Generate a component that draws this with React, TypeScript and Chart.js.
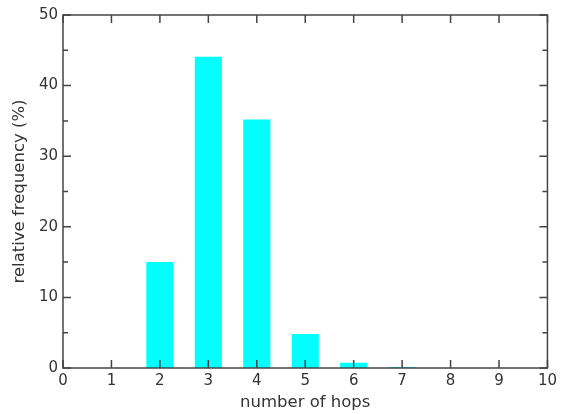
import React, { useEffect, useRef } from "react";
import { Chart, registerables } from "chart.js";

Chart.register(...registerables);

const hops = [1, 2, 3, 4, 5, 6, 7];
const frequency = [0, 15.0, 44.1, 35.2, 4.8, 0.75, 0.15];
const xTicks = [0, 1, 2, 3, 4, 5, 6, 7, 8, 9, 10];
const yMajorTicks = [0, 10, 20, 30, 40, 50];
const yMinorTicks = [5, 15, 25, 35, 45];

const FONT = "'DejaVu Sans', 'Liberation Sans', Arial, sans-serif";
const TEXT = "#333333";
const AXIS = "#444444";

const framePlugin = {
  id: "frameTicks",
  afterDatasetsDraw(chart: any) {
    const { ctx, chartArea } = chart;
    const { left, right, top, bottom } = chartArea;
    const xs = chart.scales.x;
    const ys = chart.scales.y;
    ctx.save();
    ctx.strokeStyle = AXIS;
    ctx.lineWidth = 1.5;
    ctx.beginPath();
    xTicks.forEach((v) => {
      const px = xs.getPixelForValue(v);
      ctx.moveTo(px, bottom);
      ctx.lineTo(px, bottom - 8);
      ctx.moveTo(px, top);
      ctx.lineTo(px, top + 8);
    });
    yMajorTicks.forEach((v) => {
      const py = ys.getPixelForValue(v);
      ctx.moveTo(left, py);
      ctx.lineTo(left + 8, py);
      ctx.moveTo(right, py);
      ctx.lineTo(right - 8, py);
    });
    yMinorTicks.forEach((v) => {
      const py = ys.getPixelForValue(v);
      ctx.moveTo(left, py);
      ctx.lineTo(left + 5, py);
      ctx.moveTo(right, py);
      ctx.lineTo(right - 5, py);
    });
    ctx.stroke();
    ctx.strokeRect(left, top, right - left, bottom - top);
    ctx.restore();
  },
};

export default function App() {
  const ref = useRef<HTMLCanvasElement | null>(null);
  useEffect(() => {
    if (!ref.current) return;
    const chart = new Chart(ref.current, {
      type: "bar",
      data: {
        datasets: [
          {
            data: hops.map((h, i) => ({ x: h, y: frequency[i] })),
            backgroundColor: "#00ffff",
            borderWidth: 0,
            barPercentage: 0.56,
            categoryPercentage: 1,
          },
        ],
      },
      options: {
        responsive: false,
        animation: false,
        devicePixelRatio: 1,
        layout: { padding: { top: 15, right: 12, left: 0, bottom: 0 } },
        plugins: { legend: { display: false }, tooltip: { enabled: false } },
        scales: {
          x: {
            type: "linear",
            offset: false,
            min: 0,
            max: 10,
            grid: { display: false, drawTicks: false, offset: false },
            border: { display: false },
            ticks: {
              stepSize: 1,
              padding: 4,
              color: TEXT,
              font: { family: FONT, size: 15 },
              maxRotation: 0,
            },
            title: {
              display: true,
              text: "number of hops",
              color: TEXT,
              font: { family: FONT, size: 16.5, lineHeight: 1.2 },
              padding: { top: 0, bottom: 1 },
            },
            afterFit(scale: any) {
              scale.height = 46;
            },
          },
          y: {
            type: "linear",
            min: 0,
            max: 50,
            grid: { display: false, drawTicks: false },
            border: { display: false },
            ticks: {
              stepSize: 10,
              padding: 5,
              color: TEXT,
              font: { family: FONT, size: 15 },
            },
            title: {
              display: true,
              text: "relative frequency (%)",
              color: TEXT,
              font: { family: FONT, size: 16.5, lineHeight: 1.2 },
              padding: { top: 10, bottom: 0 },
            },
            afterFit(scale: any) {
              scale.width = 63;
            },
          },
        },
      },
      plugins: [framePlugin],
    });
    return () => chart.destroy();
  }, []);
  return (
    <div style={{ position: "absolute", left: 0, top: 0, width: 561, height: 414, background: "#fff" }}>
      <canvas ref={ref} width={561} height={414} />
    </div>
  );
}
